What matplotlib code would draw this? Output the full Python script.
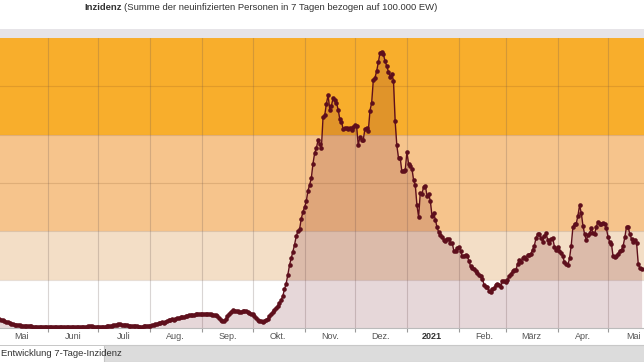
import matplotlib
matplotlib.use('Agg')
import matplotlib.pyplot as plt
import numpy as np
import pandas as pd
from matplotlib.patches import Rectangle

# 7-Tage-Inzidenz, daily values (3 May 2020 - 21 May 2021)
may20 = [9, 8.5, 8, 7, 6.5, 6, 5, 4.5, 4, 3.5, 3.5, 3, 3, 2.5, 2.5, 2.5, 2, 2, 2, 2,
         1.5, 1.5, 1.5, 1.5, 1.5, 1.5, 1.5, 1.5, 1.5]
jun20 = [1.5, 1.5, 1, 1, 1, 1, 1, 1, 1.5, 1.5, 1.5, 1, 1, 1, 1, 1, 1, 1, 1, 1.5,
         1.5, 1.5, 1.5, 1.5, 2, 2, 2, 1.5, 1.5, 1.5]
jul20 = [1.5, 1.5, 1.5, 1.5, 1.5, 2, 2, 2, 2.5, 3, 3.5, 3.5, 4, 4, 3.5, 3.5, 3, 3, 2.5, 2.5,
         2, 2, 2, 2, 1.5, 1.5, 1.5, 2, 2, 2.5, 2.5]
aug20 = [2.5, 3, 3.5, 4, 4.5, 5, 5.5, 6, 5.5, 6.5, 7, 8, 8.5, 9, 8.5, 9.5, 10, 10.5, 11, 11.5,
         11, 12, 12.5, 13, 13.5, 13, 13.5, 14, 14, 14.5, 14]
sep20 = [14.5, 14.5, 14, 14.5, 14, 14, 13.5, 13.5, 13, 12, 10, 8.5, 7, 7.5, 9, 12, 15, 17, 18.5, 18,
         18, 17.5, 17, 17, 17.5, 18, 17.5, 17, 16, 15]
oct20 = [14, 12, 10, 8.5, 7.5, 7, 6.5, 7.5, 8.5, 9.5, 12, 14.5, 16.5, 19, 21, 23, 26, 29, 33, 40,
         46, 55, 65, 72, 79, 86, 95, 100, 102, 113, 120]
nov20 = [125, 131, 142, 148, 155, 170, 181, 186, 194, 190, 186, 218, 220, 232, 241, 226, 230, 238, 236, 233,
         226, 216, 213, 206, 207, 207, 206, 207, 205, 208]
dec20 = [210, 209, 189, 198, 194, 195, 206, 207, 204, 225, 233, 257, 259, 266, 275, 285, 286, 283, 276, 271,
         265, 260, 263, 256, 214, 189, 176, 176, 162, 162, 163]
jan21 = [182, 170, 168, 165, 153, 148, 127, 115, 140, 139, 146, 147, 137, 139, 131, 116, 119, 112, 104, 99,
         96, 94, 91, 90, 92.5, 92, 88, 88, 80, 80, 83]
feb21 = [84, 80, 74, 74, 76, 75, 69, 64, 62, 61, 59, 57, 55, 54, 51, 45, 42.5, 42.5, 38, 37.5,
         40, 41, 45, 46, 44, 42, 49, 49]
mar21 = [48, 50, 54, 56, 58.5, 60, 60, 66, 70, 68, 72, 73, 71, 76, 76, 77, 81, 85, 93, 97,
         97, 93, 89, 95, 98, 91, 88, 92, 93, 84, 81]
apr21 = [84, 80, 78, 74, 68, 66, 65, 72, 85, 104, 108, 108, 116, 127, 119, 106, 97, 91, 96, 98,
         103, 98, 97, 105, 110, 108, 108, 109, 108, 103]
may21 = [94, 89, 87, 74, 73, 75, 77, 80, 81, 85, 94, 105, 104, 97, 92, 89, 91, 88, 66, 62, 61]

month_labels = ['Mai', 'Juni', 'Juli', 'Aug.', 'Sep.', 'Okt.', 'Nov.', 'Dez.', '2021',
                'Feb.', 'März', 'Apr.', 'Mai']
band_edges = [0, 50, 100, 200, 300]
band_colors = ['#ffffff', '#f3dec6', '#f6c48c', '#f8ae2c']

values = np.array(may20 + jun20 + jul20 + aug20 + sep20 + oct20 + nov20 + dec20
                  + jan21 + feb21 + mar21 + apr21 + may21, dtype=float)
dates = pd.date_range('2020-05-03', periods=len(values), freq='D')

plt.rcParams['font.family'] = ['Liberation Sans', 'DejaVu Sans']

W, H = 644, 362
fig = plt.figure(figsize=(W / 100, H / 100), dpi=100)
fig.patch.set_facecolor('white')

# grey strip above the plot and the tab bar below
fig.patches.append(Rectangle((0, 1 - 37.5 / H), 1, 8.5 / H, transform=fig.transFigure,
                             facecolor='#e6e4e8', edgecolor='none'))
fig.patches.append(Rectangle((104 / W, 0), 1, 17 / H, transform=fig.transFigure,
                             facecolor='#dcdcdc', edgecolor='#c4c4c4', linewidth=0.8))
fig.patches.append(Rectangle((0, 16.5 / H), 1, 0.6 / H, transform=fig.transFigure,
                             facecolor='#c8c8c8', edgecolor='none'))

ax = fig.add_axes([0, 34 / H, 1, 290 / H])
for lo, hi, c in zip(band_edges[:-1], band_edges[1:], band_colors):
    ax.axhspan(lo, hi, color=c, zorder=0, linewidth=0)
for yv in range(50, 300, 50):
    ax.axhline(yv, color='#7a4a20', alpha=0.18, linewidth=0.8, zorder=1)

month_starts = pd.date_range('2020-06-01', '2021-05-01', freq='MS')
for d in month_starts:
    ax.axvline(d, color='#6b5a55', alpha=0.25, linewidth=0.8, zorder=1)

ax.fill_between(dates, values, 0, color='#6e1423', alpha=0.17, linewidth=0, zorder=2)
ax.plot(dates, values, color='#5e0f1c', linewidth=1.0, marker='o', markersize=3.3,
        markeredgewidth=0, zorder=3)

ax.set_ylim(0, 300)
ax.set_xlim(pd.Timestamp('2020-05-03 08:00'), pd.Timestamp('2021-05-22 10:00'))
ax.set_yticks([])
ax.set_xticks(month_starts)
ax.set_xticklabels([])
ax.tick_params(axis='x', which='major', length=3, color='#999999', width=0.8)
mids = pd.date_range('2020-05-01', '2021-05-01', freq='MS') + pd.Timedelta(days=15)
ax.set_xticks(mids, minor=True)
ax.set_xticklabels(month_labels, minor=True, fontsize=6.5, color='#555555')
ax.tick_params(axis='x', which='minor', length=0, pad=3)
for lab in ax.get_xticklabels(minor=True):
    if lab.get_text() == '2021':
        lab.set_fontweight('bold')
        lab.set_color('#333333')
for s in ['top', 'left', 'right']:
    ax.spines[s].set_visible(False)
ax.spines['bottom'].set_color('#bbbbbb')
ax.spines['bottom'].set_linewidth(0.8)

# title: bold word followed by normal text, centred as a whole
renderer = fig.canvas.get_renderer()
t1 = fig.text(0, 1 - 8 / H, 'Inzidenz', fontsize=6.8, fontweight='bold',
              color='#333333', ha='left', va='center')
t2 = fig.text(0, 1 - 8 / H,
              '(Summe der neuinfizierten Personen in 7 Tagen bezogen auf 100.000 EW)',
              fontsize=6.8, color='#333333', ha='left', va='center')
w1 = t1.get_window_extent(renderer).width
w2 = t2.get_window_extent(renderer).width
x0 = 261 - (w1 + 2 + w2) / 2
t1.set_x(x0 / W)
t2.set_x((x0 + w1 + 2) / W)

fig.text(1 / W, 8 / H, 'Entwicklung 7-Tage-Inzidenz', fontsize=6.8, color='#333333',
         ha='left', va='center')

fig.savefig('out.png', dpi=100)
